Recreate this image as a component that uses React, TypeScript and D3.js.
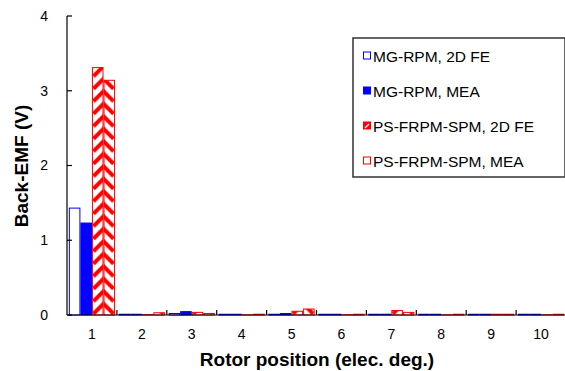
import React from "react";
import * as d3 from "d3";

const categories = ["1", "2", "3", "4", "5", "6", "7", "8", "9", "10"];
const mgRpm2DFE = [1.43, 0.01, 0.02, 0.01, 0.01, 0.01, 0.01, 0.01, 0.01, 0.01];
const mgRpmMEA = [1.23, 0.01, 0.045, 0.01, 0.02, 0.01, 0.01, 0.01, 0.01, 0.01];
const psFrpm2DFE = [3.31, 0.005, 0.035, 0.003, 0.05, 0.003, 0.06, 0.003, 0.01, 0.003];
const psFrpmMEA = [3.14, 0.03, 0.02, 0.01, 0.08, 0.01, 0.035, 0.01, 0.01, 0.01];
const yTicks = [0, 1, 2, 3, 4];
const seriesNames = ["MG-RPM, 2D FE", "MG-RPM, MEA", "PS-FRPM-SPM, 2D FE", "PS-FRPM-SPM, MEA"];

const W = 565, H = 371;
const left = 67, right = 566, top = 16, bottom = 315;
const FONT = "Liberation Sans, Arial, sans-serif";

export default function App() {
  const x = d3.scaleBand<string>().domain(categories).range([left, right]).paddingInner(0).paddingOuter(0);
  const inner = d3.scaleBand<number>().domain([0, 1, 2, 3]).range([0, x.bandwidth()]).paddingOuter(0.16).paddingInner(0);
  const y = d3.scaleLinear().domain([0, 4]).range([bottom, top]);
  const series = [mgRpm2DFE, mgRpmMEA, psFrpm2DFE, psFrpmMEA];
  const fills = ["white", "#0000ff", "url(#chev)", "url(#chev)"];
  const strokes = ["#0000ff", "#0000ff", "#ff0000", "#ff0000"];
  const step = x.step();
  const chevCx = (inner(3) as number);
  const chevH = 12.5;
  const chev = (dy: number) =>
    `M${chevCx - 10},${chevH * 0.9 + dy} L${chevCx},${chevH * 0.1 + dy} L${chevCx + 10},${chevH * 0.9 + dy}`;

  return (
    <svg width={W} height={H} style={{ position: "absolute", left: 0, top: 0, background: "white" }} fontFamily={FONT}>
      <defs>
        <pattern id="chev" patternUnits="userSpaceOnUse" x={left} y={bottom} width={step} height={chevH}>
          <rect width={step} height={chevH} fill="white" />
          {[-chevH, 0, chevH].map((d) => (
            <path key={d} d={chev(d)} fill="none" stroke="#ff0000" strokeWidth={4} />
          ))}
        </pattern>
      </defs>
      {series.map((vals, si) =>
        vals.map((v, ci) => {
          const bx = (x(categories[ci]) as number) + (inner(si) as number);
          const bw = inner.bandwidth();
          const by = y(v);
          return (
            <rect key={`${si}-${ci}`} x={bx + 0.5} y={by} width={bw - 1} height={Math.max(bottom - by, 0)}
              fill={fills[si]} stroke={strokes[si]} strokeWidth={1} />
          );
        })
      )}
      <line x1={left} x2={left} y1={top} y2={bottom} stroke="#000" strokeWidth={1.2} />
      <line x1={left} x2={W} y1={bottom} y2={bottom} stroke="#000" strokeWidth={1.2} />
      {yTicks.map((t) => (
        <g key={t}>
          <line x1={left} x2={left + 5} y1={y(t)} y2={y(t)} stroke="#000" strokeWidth={1.2} />
          <text x={48} y={y(t)} dy="0.35em" textAnchor="end" fontSize={14}>{t}</text>
        </g>
      ))}
      {categories.map((c, i) => (
        <g key={c}>
          {i > 0 && <line x1={x(c) as number} x2={x(c) as number} y1={bottom} y2={bottom - 5} stroke="#000" strokeWidth={1.2} />}
          <text x={(x(c) as number) + x.bandwidth() / 2} y={339} textAnchor="middle" fontSize={14}>{c}</text>
        </g>
      ))}
      <text x={317} y={366} textAnchor="middle" fontSize={19} fontWeight="bold">Rotor position (elec. deg.)</text>
      <text transform={`translate(28,166) rotate(-90)`} textAnchor="middle" fontSize={19} fontWeight="bold">Back-EMF (V)</text>
      <rect x={353} y={38} width={212} height={139} fill="white" stroke="#333" strokeWidth={1.5} />
      {seriesNames.map((n, i) => {
        const cy = 56 + i * 35;
        return (
          <g key={n}>
            {i === 2 ? (
              <g>
                <rect x={363.5} y={cy - 4} width={7} height={7} fill="#ff0000" stroke="#ff0000" strokeWidth={1} />
                <line x1={365} y1={cy + 2} x2={369} y2={cy - 2} stroke="white" strokeWidth={1.2} />
              </g>
            ) : (
              <rect x={363.5} y={cy - 4} width={7} height={7} fill={i === 1 ? "#0000ff" : "white"} stroke={strokes[i]} strokeWidth={1} />
            )}
            <text x={373} y={cy} dy="0.36em" fontSize={15.5}>{n}</text>
          </g>
        );
      })}
    </svg>
  );
}
